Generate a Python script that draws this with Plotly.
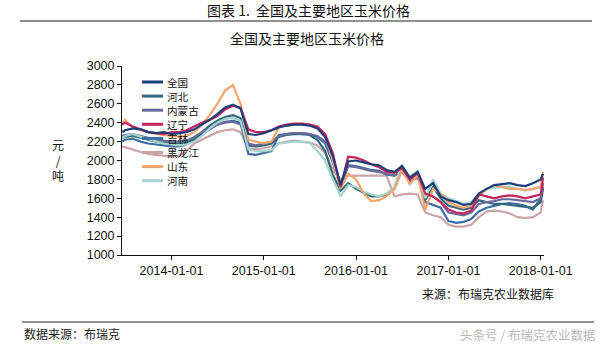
import plotly.graph_objects as go

W, H = 604, 347
ML, MR, MT, MB = 122, 60, 66, 92

dates = ["2013-06-20"] + [f"{y}-{m:02d}-01" for y in range(2013, 2018) for m in range(1, 13)
                          if not (y == 2013 and m < 7)] + ["2018-01-01", "2018-01-10"]

quanguo = [2300, 2320, 2340, 2330, 2300, 2290, 2300, 2280, 2290, 2300, 2330, 2380, 2430, 2490, 2560, 2590,
           2550, 2280, 2270, 2290, 2320, 2350, 2370, 2380, 2380, 2370, 2340, 2250, 2050, 1740, 1990, 2000,
           1980, 1960, 1950, 1900, 1880, 1940, 1820, 1880, 1700, 1760, 1620, 1580, 1560, 1530, 1540, 1650,
           1700, 1740, 1750, 1760, 1740, 1730, 1760, 1800, 1860]
hebei = [2230, 2250, 2260, 2240, 2220, 2200, 2190, 2180, 2180, 2190, 2230, 2300, 2370, 2420, 2460, 2480,
         2450, 2160, 2150, 2160, 2180, 2250, 2270, 2280, 2280, 2270, 2220, 2100, 1850, 1680, 1760, 1700,
         1660, 1620, 1620, 1640, 1700, 1900, 1780, 1840, 1580, 1720, 1600, 1520, 1500, 1480, 1500, 1580,
         1560, 1540, 1540, 1530, 1520, 1510, 1500, 1560, 1700]
neimenggu = [2260, 2270, 2280, 2260, 2240, 2220, 2210, 2200, 2200, 2210, 2250, 2300, 2340, 2380, 2400, 2410,
             2380, 2180, 2160, 2180, 2200, 2260, 2280, 2290, 2290, 2280, 2260, 2200, 2000, 1720, 1940, 1930,
             1910, 1890, 1880, 1860, 1840, 1880, 1780, 1820, 1640, 1620, 1560, 1450, 1430, 1420, 1450, 1540,
             1560, 1570, 1590, 1590, 1580, 1570, 1560, 1600, 1760]
liaoning = [2380, 2400, 2360, 2330, 2300, 2290, 2280, 2300, 2300, 2320, 2360, 2400, 2430, 2470, 2540, 2580,
            2560, 2330, 2300, 2300, 2320, 2360, 2380, 2390, 2390, 2380, 2360, 2280, 2080, 1720, 2040, 2030,
            2000, 1960, 1930, 1880, 1870, 1920, 1800, 1870, 1650, 1620, 1560, 1480, 1450, 1440, 1470, 1640,
            1620, 1600, 1620, 1630, 1620, 1600, 1620, 1640, 1820]
jilin = [2200, 2220, 2230, 2200, 2180, 2170, 2160, 2150, 2150, 2170, 2220, 2280, 2330, 2380, 2410, 2420,
         2400, 2070, 2060, 2080, 2100, 2270, 2280, 2290, 2290, 2280, 2250, 2180, 1980, 1720, 1950, 1940,
         1920, 1900, 1890, 1850, 1840, 1900, 1800, 1840, 1560, 1530, 1500, 1360, 1340, 1350, 1380, 1460,
         1500, 1520, 1540, 1550, 1540, 1520, 1480, 1600, 1720]
heilongjiang = [2150, 2140, 2120, 2090, 2070, 2060, 2050, 2040, 2050, 2100, 2180, 2220, 2260, 2300, 2320, 2330,
                2300, 2130, 2120, 2130, 2150, 2180, 2200, 2210, 2200, 2190, 2160, 2080, 1900, 1800, 1840, 1840,
                1840, 1840, 1840, 1840, 1620, 1640, 1650, 1640, 1450, 1420, 1400, 1320, 1300, 1300, 1320, 1400,
                1460, 1470, 1460, 1440, 1400, 1390, 1400, 1450, 1580]
shandong = [2380, 2430, 2350, 2320, 2300, 2280, 2270, 2260, 2250, 2260, 2300, 2380, 2480, 2600, 2740, 2800,
            2600, 2220, 2200, 2180, 2200, 2350, 2370, 2380, 2390, 2380, 2360, 2260, 2000, 1700, 1860, 1800,
            1650, 1570, 1580, 1620, 1700, 1900, 1750, 1850, 1480, 1700, 1650, 1560, 1520, 1500, 1520, 1620,
            1700, 1740, 1720, 1700, 1700, 1690, 1700, 1720, 1880]
henan = [2230, 2260, 2280, 2250, 2230, 2200, 2180, 2170, 2160, 2170, 2200, 2260, 2340, 2400, 2440, 2450,
         2420, 2120, 2100, 2100, 2110, 2180, 2190, 2200, 2200, 2190, 2100, 2000, 1800, 1620, 1740, 1720,
         1670, 1640, 1620, 1650, 1720, 1960, 1820, 1890, 1600, 1800, 1650, 1600, 1570, 1540, 1560, 1640,
         1700, 1710, 1720, 1720, 1700, 1680, 1700, 1720, 1800]

names = ["全国", "河北", "内蒙古", "辽宁", "吉林", "黑龙江", "山东", "河南"]
series = [quanguo, hebei, neimenggu, liaoning, jilin, heilongjiang, shandong, henan]
colors = ["#1b3f7a", "#2f6a7c", "#6a6b9c", "#c8245e", "#3d6ea6", "#cba3ab", "#f5a56c", "#a3d3cb"]
draw_order = [5, 4, 1, 2, 7, 6, 3, 0]

xticks = ["2014-01-01", "2015-01-01", "2016-01-01", "2017-01-01", "2018-01-01"]
yticks = [1000, 1200, 1400, 1600, 1800, 2000, 2200, 2400, 2600, 2800, 3000]

fig = go.Figure()
for i in draw_order:
    fig.add_trace(go.Scatter(x=dates, y=series[i], mode="lines", name=names[i],
                             line=dict(color=colors[i], width=2.2), showlegend=False))

pw = W - ML - MR
ph = H - MT - MB
def px(x):
    return (x - ML) / pw
def py(y):
    return (H - MB - y) / ph

shapes = []
annotations = []
cjk = "Noto Sans CJK SC"
# manual legend
for k, (n, c) in enumerate(zip(names, colors)):
    yc = 82 + k * 14.1
    shapes.append(dict(type="line", xref="paper", yref="paper", x0=px(142), x1=px(163),
                       y0=py(yc), y1=py(yc), line=dict(color=c, width=3)))
    annotations.append(dict(text=n, xref="paper", yref="paper", x=px(166), y=py(yc),
                            xanchor="left", yanchor="middle", showarrow=False, borderpad=0,
                            font=dict(size=10.6, color="#111", family=cjk)))

# header lines
shapes.append(dict(type="line", xref="paper", yref="paper", x0=px(20), x1=px(592),
                   y0=py(21), y1=py(21), line=dict(color="#222", width=1.2)))
shapes.append(dict(type="line", xref="paper", yref="paper", x0=px(22), x1=px(594),
                   y0=py(322), y1=py(322), line=dict(color="#222", width=1.2)))

annotations += [
    dict(text="图表 1.  全国及主要地区玉米价格", xref="paper", yref="paper", x=px(308), y=py(10),
         xanchor="center", yanchor="middle", showarrow=False, font=dict(size=14, color="#111", family=cjk)),
    dict(text="全国及主要地区玉米价格", xref="paper", yref="paper", x=px(307), y=py(38),
         xanchor="center", yanchor="middle", showarrow=False, font=dict(size=14, color="#111", family=cjk)),
    dict(text="元<br>/<br>吨", xref="paper", yref="paper", x=px(58), y=py(160),
         xanchor="center", yanchor="middle", showarrow=False,
         font=dict(size=12, color="#111", family=cjk)),
    dict(text="来源：布瑞克农业数据库", xref="paper", yref="paper", x=px(420), y=py(293),
         xanchor="left", yanchor="middle", showarrow=False, font=dict(size=12, color="#111", family=cjk)),
    dict(text="数据来源：布瑞克", xref="paper", yref="paper", x=px(22), y=py(333),
         xanchor="left", yanchor="middle", showarrow=False, font=dict(size=12, color="#222", family=cjk)),
    dict(text="头条号 / 布瑞克农业数据", xref="paper", yref="paper", x=px(598), y=py(334),
         xanchor="right", yanchor="middle", showarrow=False, font=dict(size=12.5, color="#b8b8b8", family=cjk)),
]

fig.update_layout(
    width=W, height=H, margin=dict(l=ML, r=MR, t=MT, b=MB),
    paper_bgcolor="white", plot_bgcolor="white",
    font=dict(family="Liberation Sans, Arial, sans-serif", size=12, color="#111"),
    shapes=shapes, annotations=annotations, showlegend=False,
    xaxis=dict(type="date", range=["2013-06-19", "2018-01-14"], tickvals=xticks, ticktext=xticks,
               showgrid=False, zeroline=False, showline=True, linecolor="#111", linewidth=1,
               ticks="outside", ticklen=4, tickcolor="#111", tickfont=dict(size=12.5)),
    yaxis=dict(range=[1000, 3000], tickvals=yticks, showgrid=False, zeroline=False,
               showline=True, linecolor="#111", linewidth=1, ticks="outside", ticklen=4,
               tickcolor="#111", tickfont=dict(size=12.5)),
)

fig.write_html("out.html")
